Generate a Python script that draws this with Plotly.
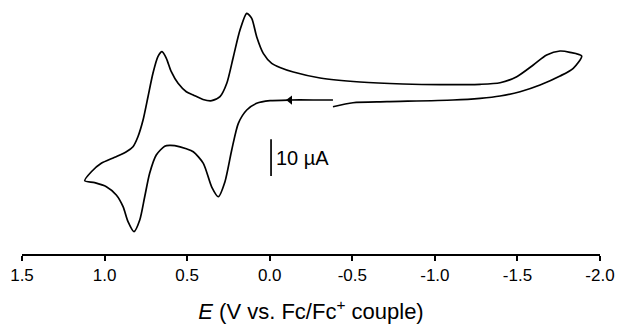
import plotly.graph_objects as go

# Cyclic voltammogram, potential in V vs Fc/Fc+, current in µA
potential = [
    -0.383, -0.305, -0.123, -0.002, 0.079, 0.139, 0.190, 0.230, 0.271, 0.311,
    0.351, 0.402, 0.463, 0.505, 0.575, 0.606, 0.636, 0.687, 0.727, 0.757, 0.787,
    0.822, 0.858, 0.888, 0.929, 0.989, 1.060, 1.120,
    1.080, 1.020, 0.939, 0.868, 0.828, 0.798, 0.767, 0.737, 0.707, 0.677,
    0.652, 0.626, 0.596, 0.555, 0.505, 0.463, 0.404, 0.351, 0.301, 0.260,
    0.220, 0.180, 0.139, 0.109, 0.079, 0.039, -0.012, -0.062, -0.143, -0.305,
    -0.547, -0.807, -1.031, -1.274, -1.395, -1.496, -1.596, -1.677, -1.758,
    -1.818, -1.889,
    -1.838, -1.758, -1.637, -1.516, -1.395, -1.274, -1.110, -0.710, -0.504,
    -0.383,
]
current = [
    0.0, 0.0, 0.0, -0.19, -0.90, -2.72, -6.35, -13.62, -22.26, -26.35,
    -23.71, -17.25, -14.09, -13.3, -12.45, -12.35, -12.6, -14.99, -19.97, -26.35, -32.70,
    -35.89, -33.16, -29.07, -25.89, -23.62, -22.53, -21.99,
    -19.54, -17.25, -15.61, -14.09, -12.72, -10.00, -5.45, 0.90, 7.28, 11.80,
    13.16, 11.36, 7.71, 4.55, 2.26, 1.36, 0.14, -0.19, 0.90, 4.55,
    11.80, 19.07, 23.62, 22.26, 17.25, 12.72, 10.00, 8.86, 7.63, 5.99,
    4.90, 4.36, 4.17, 4.28, 4.71, 6.35, 9.54, 12.26, 13.35,
    13.00, 11.99,
    8.64, 6.54, 4.09, 2.26, 1.09, 0.46, 0.0, -0.46, -0.74,
    -1.83,
]

# scan-direction arrow
arrow_E = [-0.123]
arrow_I = [0.0]

# scale bar (10 µA)
bar_E = [-0.008, -0.008]
bar_I = [-10.7, -20.7]
bar_label = "10 µA"

tick_vals = [1.5, 1.0, 0.5, 0.0, -0.5, -1.0, -1.5, -2.0]
tick_text = ["1.5", "1.0", "0.5", "0.0", "-0.5", "-1.0", "-1.5", "-2.0"]

FONT = "Liberation Sans, Arial, sans-serif"

fig = go.Figure()
fig.add_trace(go.Scatter(
    x=potential, y=current, mode="lines",
    line=dict(color="black", width=1.7, shape="spline", smoothing=0.7),
    hoverinfo="skip", showlegend=False,
))
fig.add_trace(go.Scatter(
    x=arrow_E, y=arrow_I, mode="markers",
    marker=dict(symbol="triangle-left", size=8, color="black"),
    hoverinfo="skip", showlegend=False,
))
fig.add_trace(go.Scatter(
    x=bar_E, y=bar_I, mode="lines",
    line=dict(color="black", width=1.7),
    hoverinfo="skip", showlegend=False,
))
fig.add_annotation(
    x=bar_E[0], y=(bar_I[0] + bar_I[1]) / 2, text=bar_label,
    xanchor="left", yanchor="middle", xshift=3, showarrow=False,
    font=dict(family=FONT, size=20, color="black"),
)

fig.update_layout(
    width=620, height=324,
    margin=dict(l=22, r=20, t=0, b=70),
    paper_bgcolor="white", plot_bgcolor="white",
    font=dict(family=FONT, color="black"),
    xaxis=dict(
        range=[1.5, -2.0], tickvals=tick_vals, ticktext=tick_text,
        showline=True, linecolor="black", linewidth=1.5,
        ticks="outside", ticklen=5, tickwidth=1.5, tickcolor="black",
        tickfont=dict(family=FONT, size=17, color="black"),
        showgrid=False, zeroline=False,
        title=dict(text="<i>E</i> (V vs. Fc/Fc<sup>+</sup> couple)",
                   font=dict(family=FONT, size=22, color="black"), standoff=21),
    ),
    yaxis=dict(range=[-41.96, 27.25], visible=False, showgrid=False, zeroline=False),
)

fig.write_html("out.html")
